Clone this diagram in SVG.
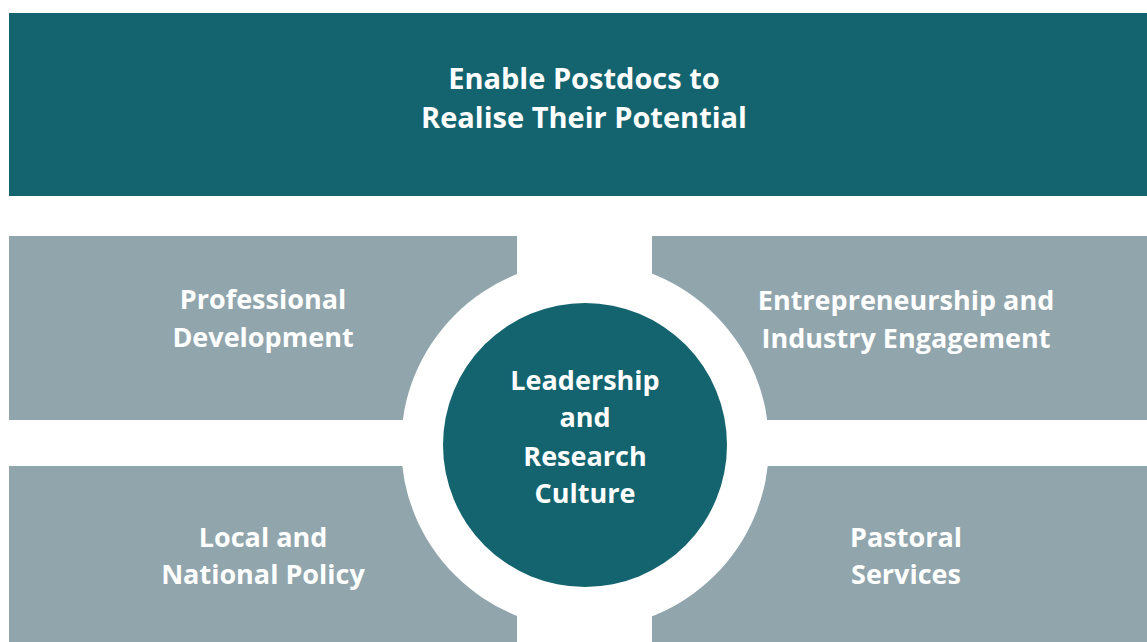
<svg xmlns="http://www.w3.org/2000/svg" width="1147" height="642" viewBox="0 0 1147 642">
<style>
.teal{fill:#13646f}
.grey{fill:#91a5ad}
.t{font-family:"Open Sans","Liberation Sans",sans-serif;font-weight:700;fill:#ffffff;text-anchor:middle}
.big{font-size:29px}
.mid{font-size:27px}
</style>
<rect width="1147" height="642" fill="#ffffff"/>
<g id="goal">
<rect class="teal" x="9" y="13" width="1138" height="183"/>
<text class="t big" x="584" y="89">Enable Postdocs to</text>
<text class="t big" x="584" y="128">Realise Their Potential</text>
</g>
<g id="professional-development">
<rect class="grey" x="9" y="236" width="508" height="184"/>
<text class="t mid" x="263" y="309">Professional</text>
<text class="t mid" x="263" y="347">Development</text>
</g>
<g id="entrepreneurship">
<rect class="grey" x="652" y="236" width="495" height="184"/>
<text class="t mid" x="906" y="310">Entrepreneurship and</text>
<text class="t mid" x="906" y="348">Industry Engagement</text>
</g>
<g id="local-national-policy">
<rect class="grey" x="9" y="466" width="508" height="176"/>
<text class="t mid" x="263" y="547">Local and</text>
<text class="t mid" x="263" y="584">National Policy</text>
</g>
<g id="pastoral-services">
<rect class="grey" x="652" y="466" width="495" height="176"/>
<text class="t mid" x="906" y="547">Pastoral</text>
<text class="t mid" x="906" y="584">Services</text>
</g>
<g id="connectors"></g>
<g id="leadership">
<circle cx="585" cy="445" r="184" fill="#ffffff"/>
<circle class="teal" cx="585" cy="445" r="142"/>
<text class="t mid" x="585" y="390">Leadership</text>
<text class="t mid" x="585" y="427">and</text>
<text class="t mid" x="585" y="466">Research</text>
<text class="t mid" x="585" y="503">Culture</text>
</g>
</svg>
